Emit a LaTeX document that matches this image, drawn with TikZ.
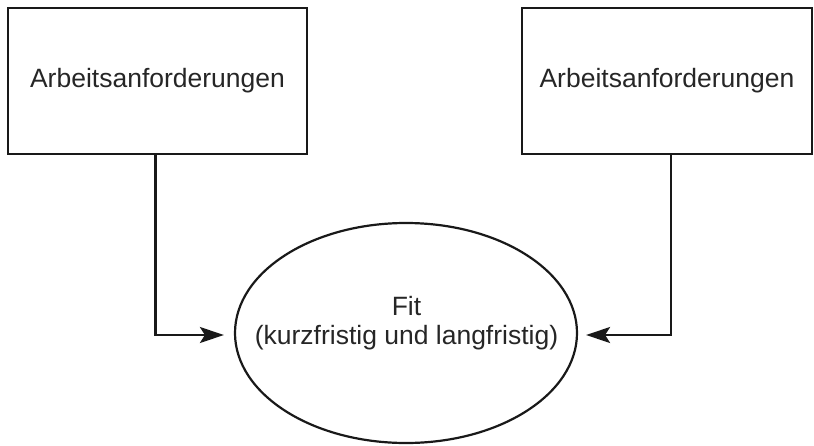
\documentclass[tikz,border=0pt]{standalone}
\usepackage{fontspec}
\setmainfont{Liberation Sans}
\usetikzlibrary{arrows.meta,shapes.geometric}
\begin{document}
\begin{tikzpicture}[x=1pt,y=-1pt,
  lbl/.style={font=\fontsize{26.5}{29}\selectfont, text=black!85},
  boxnode/.style={draw=black!90, line width=2.2pt, minimum height=146pt, inner sep=0pt, lbl},
  fitnode/.style={draw=black!90, line width=2.2pt, ellipse, minimum width=342pt, minimum height=220pt, inner sep=0pt},
  arr/.style={draw=black!90, line width=2.2pt, -{Stealth[length=24pt,width=16pt,inset=5pt]}}
]
\useasboundingbox (0,0) rectangle (814,445);
\node[boxnode, minimum width=299pt] (left) at (157.5,81) {Arbeitsanforderungen};
\node[boxnode, minimum width=290pt] (right) at (667,81) {Arbeitsanforderungen};
\node[fitnode] (fit) at (406,333) {};
\node[lbl, align=center, inner sep=0pt] (fittext) at (406.5,323) {Fit\\(kurzfristig und langfristig)};
\coordinate (la) at ([xshift=-10pt,yshift=-2pt]fit.west);
\coordinate (ra) at ([xshift=8pt,yshift=-2pt]fit.east);
\coordinate (ls) at ([xshift=-2pt]left.south);
\coordinate (rs) at ([xshift=4pt]right.south);
\draw[arr] (ls) |- (la);
\draw[arr] (rs) |- (ra);
\end{tikzpicture}
\end{document}
